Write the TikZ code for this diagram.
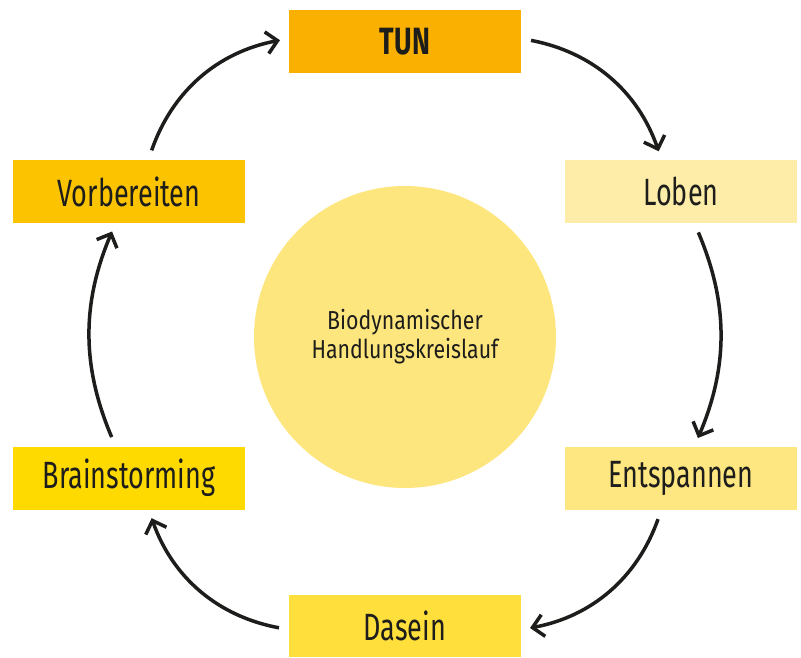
\documentclass[tikz,border=0pt]{standalone}
\usepackage{fontspec}
\setmainfont{Fira Sans}[FakeStretch=0.71]
\newfontfamily\hubfont{Fira Sans}[FakeStretch=0.82]
\usetikzlibrary{arrows.meta}

\definecolor{tuncol}{HTML}{F9B000}
\definecolor{lobcol}{HTML}{FEEDA8}
\definecolor{entcol}{HTML}{FEE680}
\definecolor{dascol}{HTML}{FFDF3C}
\definecolor{brncol}{HTML}{FFDA00}
\definecolor{vorcol}{HTML}{FBC300}
\definecolor{hubcol}{HTML}{FEE67E}
\definecolor{inkcol}{HTML}{1D1D1B}

\begin{document}
\begin{tikzpicture}[x=1pt,y=1pt]
\tikzset{
  phasebox/.style={rectangle,minimum width=232pt,minimum height=63pt,inner sep=0pt,text=inkcol,font=\fontsize{38}{40}\selectfont},
  hubcircle/.style={circle,minimum size=302pt,inner sep=0pt,fill=hubcol,text=inkcol,align=center,font=\hubfont\fontsize{26}{29}\selectfont},
  cycle/.style={-{Straight Barb[length=11pt,width=22pt,line width=3.5pt]},line width=3.5pt,draw=inkcol,shorten <=10pt,shorten >=9pt}
}
\useasboundingbox (0,0) rectangle (801,657);
\node[hubcircle] (c_hub) at (405,320) {Biodynamischer\\Handlungskreislauf};
\node[phasebox,fill=tuncol,font=\fontsize{38}{40}\selectfont\bfseries] (n_tun) at (405,615.5) {TUN};
\node[phasebox,fill=lobcol] (n_loben) at (681,465.5) {Loben};
\node[phasebox,fill=entcol] (n_entsp) at (681,179) {Entspannen};
\node[phasebox,fill=dascol,minimum height=62pt] (n_dasein) at (405,31) {Dasein};
\node[phasebox,fill=brncol] (n_brain) at (129,179) {Brainstorming};
\node[phasebox,fill=vorcol] (n_vorb) at (129,465.5) {Vorbereiten};
\draw[cycle] (n_tun) to[bend left=30] (n_loben);
\draw[cycle] (n_loben) to[bend left=23] (n_entsp);
\draw[cycle] (n_entsp) to[bend left=30] (n_dasein);
\draw[cycle] (n_dasein) to[bend left=30] (n_brain);
\draw[cycle] (n_brain) to[bend left=23] (n_vorb);
\draw[cycle] (n_vorb) to[bend left=30] (n_tun);
\end{tikzpicture}
\end{document}
